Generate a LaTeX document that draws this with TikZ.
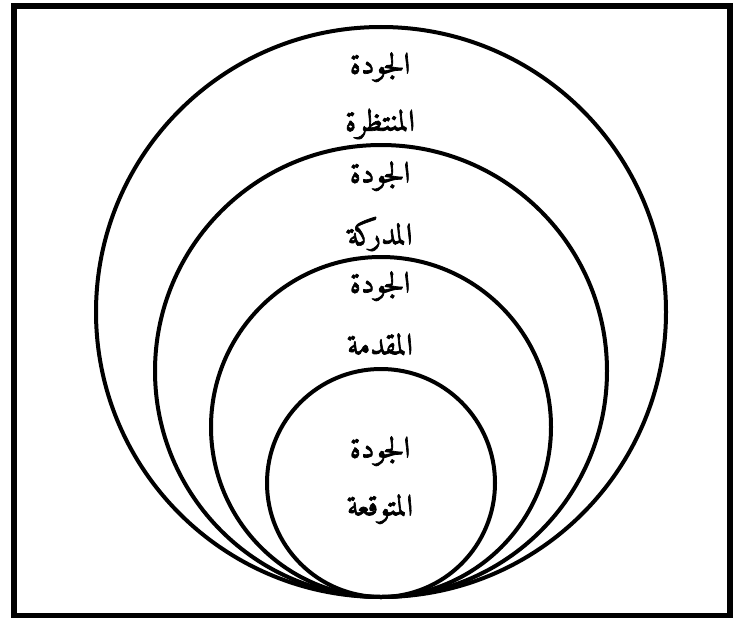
\documentclass[tikz,border=0pt]{standalone}
\usepackage{fontspec}
\TeXXeTstate=1
\newfontfamily\arabicfont[Script=Arabic,FakeBold=2.2]{Amiri}
\begin{document}
\begin{tikzpicture}[x=1pt,y=-1pt,
  ring/.style={circle,draw,line width=4pt,inner sep=0pt},
  lbl/.style={font=\arabicfont\fontsize{30}{34}\selectfont,inner sep=0pt}]
\useasboundingbox (0,0) rectangle (736,618);
\draw[line width=6pt] (14,6.3) rectangle (730,615.5);
\node[ring,minimum size=570pt] (c1) at (381,312) {};
\node[ring,minimum size=452pt] (c2) at (381,371) {};
\node[ring,minimum size=340pt] (c3) at (381,427) {};
\node[ring,minimum size=228pt] (c4) at (381,483) {};
\node[lbl] (t1a) at (380,67) {\beginR الجودة\endR};
\node[lbl] (t1b) at (380,124) {\beginR المنتظرة\endR};
\node[lbl] (t2a) at (380,176) {\beginR الجودة\endR};
\node[lbl] (t2b) at (380,234) {\beginR المدركة\endR};
\node[lbl] (t3a) at (380,286) {\beginR الجودة\endR};
\node[lbl] (t3b) at (380,344) {\beginR المقدمة\endR};
\node[lbl] (t4a) at (380,451) {\beginR الجودة\endR};
\node[lbl] (t4b) at (380,509) {\beginR المتوقعة\endR};
\end{tikzpicture}
\end{document}
